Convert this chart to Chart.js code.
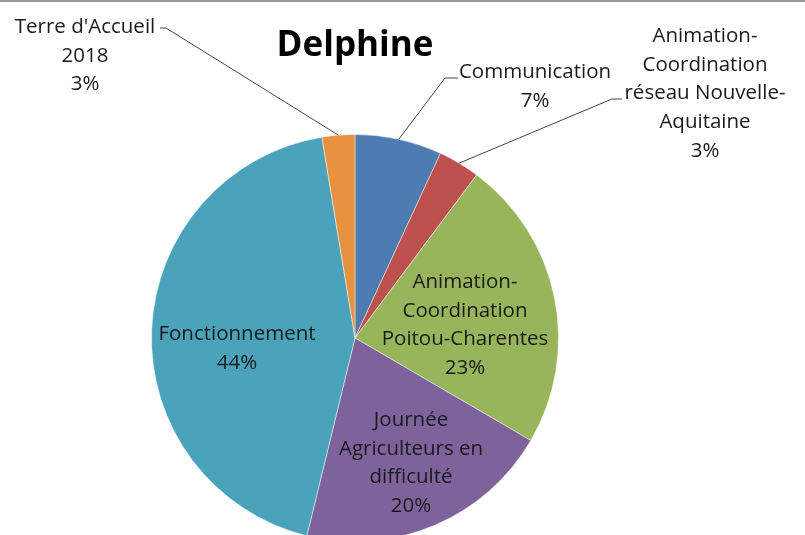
<!DOCTYPE html>
<html>
<head>
<meta charset="utf-8">
<script src="https://cdn.jsdelivr.net/npm/chart.js@4/dist/chart.umd.min.js"></script>
<style>
html,body{margin:0;padding:0;background:#fff;overflow:hidden;}
#wrap{position:relative;width:805px;height:550px;}
#topline{position:absolute;left:0;top:0;width:805px;height:2px;background:#9a9a9a;z-index:2;}
</style>
</head>
<body>
<div id="wrap"><div id="topline"></div><canvas id="c" width="805" height="550"></canvas></div>
<script>
const categories = ["Communication", "Animation-Coordination réseau Nouvelle-Aquitaine", "Animation-Coordination Poitou-Charentes", "Journée Agriculteurs en difficulté", "Fonctionnement", "Terre d'Accueil 2018"];
const labelLines = [["Communication"], ["Animation-", "Coordination", "réseau Nouvelle-", "Aquitaine"], ["Animation-", "Coordination", "Poitou-Charentes"], ["Journée", "Agriculteurs en", "difficulté"], ["Fonctionnement"], ["Terre d'Accueil", "2018"]];
const values = [6.9, 3.3, 23.2, 20.4, 43.6, 2.6];
const colors = ["#4e7bb0", "#bd514e", "#98b55b", "#7d629c", "#4aa3ba", "#e8923f"];
const chartTitle = "Delphine";

// label placement: center x, first line y, optional leader line {elbow x, elbow y, text-side x}
const labelPlacement = [
  {x: 535, y: 72, leader: {ex: 445, ey: 78, tx: 458}},
  {x: 705, y: 36, leader: {ex: 612, ey: 99, tx: 622}},
  {x: 465, y: 282},
  {x: 411, y: 420},
  {x: 237, y: 334},
  {x: 85, y: 27, leader: {ex: 166, ey: 28, tx: 160}}
];

const labelPlugin = {
  id: 'pieLabels',
  afterDatasetsDraw(chart) {
    const ctx = chart.ctx;
    const meta = chart.getDatasetMeta(0);
    const total = values.reduce((a, b) => a + b, 0);
    ctx.save();
    ctx.fillStyle = '#000';
    ctx.font = 'bold 35px "Open Sans", sans-serif';
    ctx.textAlign = 'center';
    ctx.textBaseline = 'middle';
    ctx.fillText(chartTitle, 355, 46);
    ctx.font = '20.5px "Open Sans", sans-serif';
    const lh = 28.7;
    meta.data.forEach((arc, i) => {
      const p = labelPlacement[i];
      const lines = labelLines[i].concat([Math.round(values[i] / total * 100) + '%']);
      ctx.fillStyle = '#1a1a1a';
      lines.forEach((t, k) => ctx.fillText(t, p.x, p.y + k * lh));
      if (p.leader) {
        const mid = (arc.startAngle + arc.endAngle) / 2;
        const ax = arc.x + Math.cos(mid) * arc.outerRadius;
        const ay = arc.y + Math.sin(mid) * arc.outerRadius;
        ctx.strokeStyle = '#444';
        ctx.lineWidth = 1;
        ctx.beginPath();
        ctx.moveTo(ax, ay);
        ctx.lineTo(p.leader.ex, p.leader.ey);
        ctx.lineTo(p.leader.tx, p.leader.ey);
        ctx.stroke();
      }
    });
    ctx.restore();
  }
};

new Chart(document.getElementById('c'), {
  type: 'pie',
  data: {
    labels: categories,
    datasets: [{
      data: values,
      backgroundColor: colors,
      borderColor: 'rgba(255,255,255,0.45)',
      borderWidth: 1
    }]
  },
  options: {
    responsive: false,
    animation: false,
    layout: {padding: {left: 151, right: 246, top: 134, bottom: 8}},
    plugins: {legend: {display: false}, tooltip: {enabled: false}, title: {display: false}}
  },
  plugins: [labelPlugin]
});
</script>
</body>
</html>
